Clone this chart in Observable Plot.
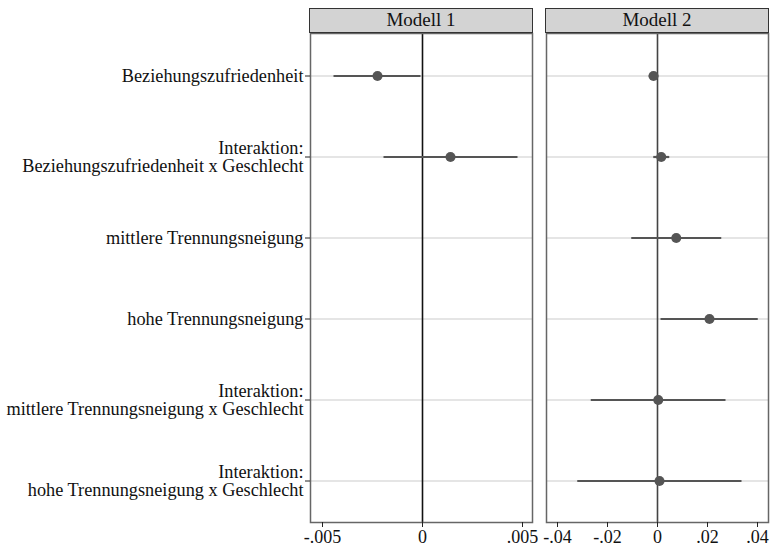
<!DOCTYPE html>
<html>
<head>
<meta charset="utf-8">
<script src="https://cdn.jsdelivr.net/npm/d3@7"></script>
<script src="https://cdn.jsdelivr.net/npm/@observablehq/plot@0.6"></script>
<style>
  html, body { margin: 0; padding: 0; background: #fff; }
  #wrap { position: relative; width: 773px; height: 552px; }
  .panel { position: absolute; top: 0; }
  .strip { position: absolute; top: 8px; height: 25px; background: #d3d3d3; border: 1.5px solid #333;
           box-sizing: border-box; font-family: "Liberation Serif", serif; font-size: 19px; color: #111;
           text-align: center; line-height: 22px; }
</style>
</head>
<body>
<div id="wrap"></div>
<script>
const categories = [
  "Beziehungszufriedenheit",
  "Interaktion:\nBeziehungszufriedenheit x Geschlecht",
  "mittlere Trennungsneigung",
  "hohe Trennungsneigung",
  "Interaktion:\nmittlere Trennungsneigung x Geschlecht",
  "Interaktion:\nhohe Trennungsneigung x Geschlecht"
];
const models = ["Modell 1", "Modell 2"];

// Modell 1 (only first two coefficients)
const m1Terms = [categories[0], categories[1]];
const m1Est   = [-0.00225, 0.0014];
const m1Lo    = [-0.00445, -0.00195];
const m1Hi    = [-0.0001, 0.00475];

// Modell 2
const m2Terms = categories;
const m2Est   = [-0.0016, 0.0015, 0.0075, 0.0208, 0.0003, 0.0008];
const m2Lo    = [-0.0035, -0.0017, -0.0105, 0.0012, -0.0267, -0.0321];
const m2Hi    = [0.0003, 0.0047, 0.0255, 0.0401, 0.0272, 0.0336];

const m1Ticks = [-0.005, 0, 0.005];
const m2Ticks = [-0.04, -0.02, 0, 0.02, 0.04];
const m1Domain = [-0.0056, 0.0055];
const m2Domain = [-0.0444, 0.0444];

const rows = (terms, est, lo, hi) => terms.map((t, i) => ({term: t, est: est[i], lo: lo[i], hi: hi[i]}));
const fmt = d => d === 0 ? "0" : String(d).replace("0.", ".");

function panel({data, domain, ticks, zeroColor, showY, width, marginLeft, marginRight}) {
  const marks = [
    Plot.ruleY(categories, {y: d => d, stroke: "#dcdcdc", strokeWidth: 1.5}),
    Plot.ruleX([0], {stroke: zeroColor, strokeWidth: 1.6}),
    Plot.link(data, {x1: "lo", x2: "hi", y1: "term", y2: "term", stroke: "#555", strokeWidth: 2.2}),
    Plot.dot(data, {x: "est", y: "term", r: 5, fill: "#555", stroke: "none"}),
    Plot.frame({stroke: "#666", strokeWidth: 1.5}),
    Plot.axisX({ticks, tickFormat: fmt, tickSize: 5, tickPadding: 3, stroke: "#222", label: null,
                fontSize: 18, fill: "#111"})
  ];
  if (showY) {
    marks.push(Plot.axisY({tickSize: 5, tickPadding: 2, tickFormat: d => d, label: null,
                           fontSize: 18.3, fill: "#111", stroke: "#222", lineHeight: 1.0}));
  } else {
    marks.push(Plot.axisY({ticks: [], label: null}));
  }
  return Plot.plot({
    width, height: 552,
    marginTop: 33, marginBottom: 30, marginLeft, marginRight,
    style: {fontFamily: "Liberation Serif, serif", fontSize: "18px", background: "#fff", overflow: "visible"},
    x: {domain, label: null},
    y: {domain: categories, type: "band", padding: 0, label: null},
    marks
  });
}

const wrap = document.getElementById("wrap");

const p1 = panel({data: rows(m1Terms, m1Est, m1Lo, m1Hi), domain: m1Domain, ticks: m1Ticks,
                  zeroColor: "#111", showY: true, width: 540, marginLeft: 310, marginRight: 8});
const d1 = document.createElement("div"); d1.className = "panel"; d1.style.left = "0px"; d1.appendChild(p1);
wrap.appendChild(d1);

const p2 = panel({data: rows(m2Terms, m2Est, m2Lo, m2Hi), domain: m2Domain, ticks: m2Ticks,
                  zeroColor: "#444", showY: false, width: 233, marginLeft: 6, marginRight: 5});
const d2 = document.createElement("div"); d2.className = "panel"; d2.style.left = "540px"; d2.appendChild(p2);
wrap.appendChild(d2);

[[models[0], 309, 224], [models[1], 545, 224]].forEach(([t, l, w]) => {
  const s = document.createElement("div");
  s.className = "strip"; s.textContent = t;
  s.style.left = l + "px"; s.style.width = w + "px";
  wrap.appendChild(s);
});
</script>
</body>
</html>
